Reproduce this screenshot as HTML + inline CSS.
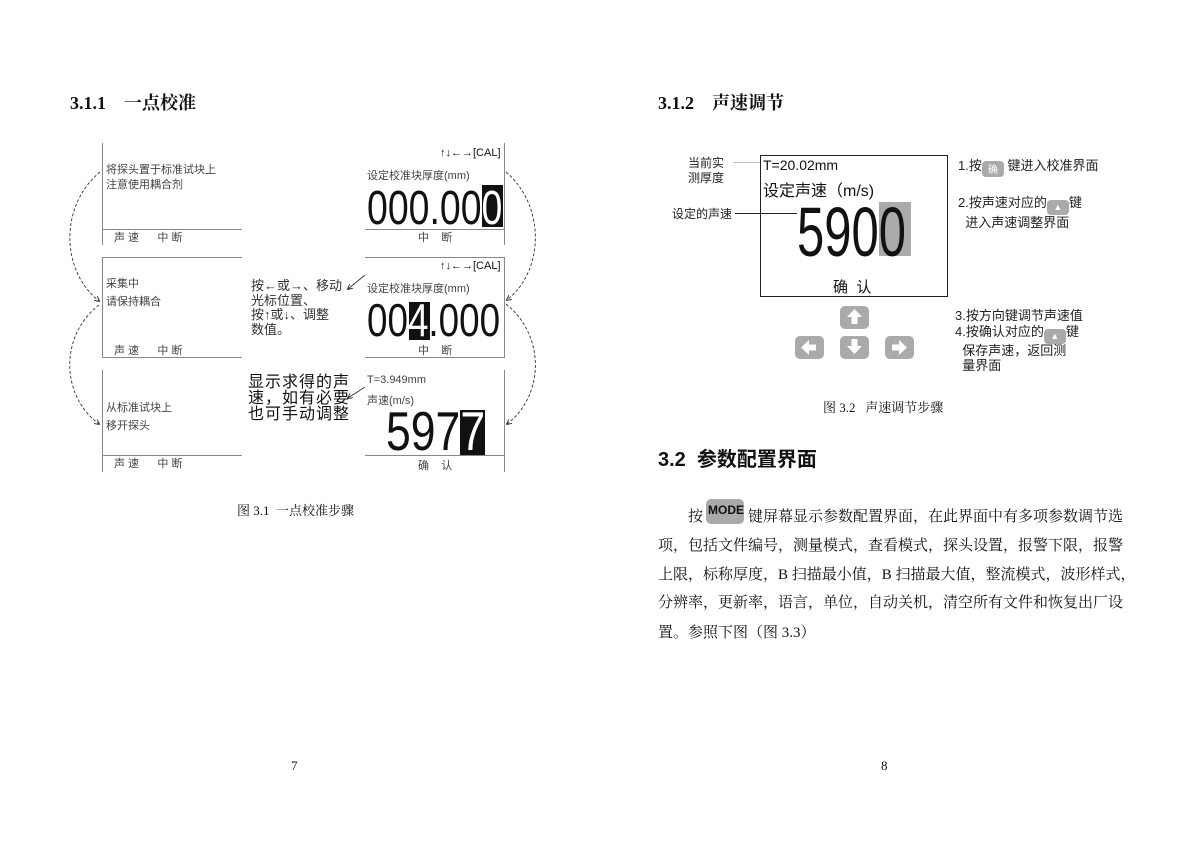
<!DOCTYPE html>
<html><head><meta charset="utf-8"><style>
body{margin:0;background:#fff;}
#p{position:relative;width:1200px;height:848px;overflow:hidden;background:#fff;font-family:"Liberation Serif","Noto Serif CJK SC",serif;color:#111;}
.a{position:absolute;white-space:nowrap;}
.s{font-family:"Liberation Sans","Noto Sans CJK SC",sans-serif;}
.ln{position:absolute;background:#888;}
.k{position:absolute;background:#aaa;border-radius:5px;}
.blk{position:absolute;background:#111;}
.big{position:absolute;white-space:nowrap;font-family:"Liberation Sans",sans-serif;line-height:1;transform-origin:0 0;}
.w{color:#fff;}
.pl{position:absolute;left:658px;width:464px;font-size:15px;text-align:justify;text-align-last:justify;white-space:nowrap;}
</style></head><body><div id="p">

<div class="a" style="left:70px;top:89px;font-size:18px;font-weight:bold;">3.1.1&nbsp;&nbsp;&nbsp; 一点校准</div>
<div class="a" style="left:658px;top:89px;font-size:18px;font-weight:bold;">3.1.2&nbsp;&nbsp;&nbsp; 声速调节</div>

<!-- left panels -->
<div class="ln" style="left:102px;top:143px;width:1px;height:102px"></div>
<div class="ln" style="left:102px;top:229px;width:140px;height:1px"></div>
<div class="a s" style="left:106px;top:163px;font-size:11px;color:#444;line-height:15px">将探头置于标准试块上<br>注意使用耦合剂</div>
<div class="a s" style="left:114px;top:229px;font-size:11px;color:#444;">声 速&nbsp;&nbsp;&nbsp;&nbsp;&nbsp; 中 断</div>

<div class="ln" style="left:102px;top:257px;width:140px;height:1px"></div>
<div class="ln" style="left:102px;top:257px;width:1px;height:101px"></div>
<div class="ln" style="left:102px;top:357px;width:140px;height:1px"></div>
<div class="a s" style="left:106px;top:275px;font-size:11px;color:#444;line-height:18px">采集中<br>请保持耦合</div>
<div class="a s" style="left:114px;top:342px;font-size:11px;color:#444;">声 速&nbsp;&nbsp;&nbsp;&nbsp;&nbsp; 中 断</div>

<div class="ln" style="left:102px;top:370px;width:1px;height:102px"></div>
<div class="ln" style="left:102px;top:455px;width:140px;height:1px"></div>
<div class="a s" style="left:106px;top:399px;font-size:11px;color:#444;line-height:18px">从标准试块上<br>移开探头</div>
<div class="a s" style="left:114px;top:455px;font-size:11px;color:#444;">声 速&nbsp;&nbsp;&nbsp;&nbsp;&nbsp; 中 断</div>

<!-- right panels -->
<div class="ln" style="left:504px;top:143px;width:1px;height:102px"></div>
<div class="ln" style="left:365px;top:229px;width:140px;height:1px"></div>
<div class="a s" style="left:440px;top:147px;font-size:11px;">↑↓←→[CAL]</div>
<div class="a s" style="left:367px;top:167px;font-size:11px;color:#444;">设定校准块厚度(mm)</div>
<div class="blk" style="left:482px;top:185px;width:21px;height:42px"></div>
<div class="big" style="left:367px;top:185px;font-size:48px;transform:scaleX(0.78)">000.00<span class="w">0</span></div>
<div class="a s" style="left:418px;top:229px;font-size:11px;color:#444;">中&nbsp;&nbsp;&nbsp; 断</div>

<div class="ln" style="left:365px;top:257px;width:140px;height:1px"></div>
<div class="ln" style="left:504px;top:257px;width:1px;height:101px"></div>
<div class="ln" style="left:365px;top:357px;width:140px;height:1px"></div>
<div class="a s" style="left:440px;top:260px;font-size:11px;">↑↓←→[CAL]</div>
<div class="a s" style="left:367px;top:280px;font-size:11px;color:#444;">设定校准块厚度(mm)</div>
<div class="blk" style="left:409px;top:302px;width:21px;height:38px"></div>
<div class="big" style="left:367px;top:297px;font-size:46px;transform:scaleX(0.8)">00<span class="w">4</span>.000</div>
<div class="a s" style="left:418px;top:342px;font-size:11px;color:#444;">中&nbsp;&nbsp;&nbsp; 断</div>

<div class="ln" style="left:504px;top:370px;width:1px;height:102px"></div>
<div class="ln" style="left:365px;top:455px;width:140px;height:1px"></div>
<div class="a s" style="left:367px;top:374px;font-size:11px;color:#444;">T=3.949mm</div>
<div class="a s" style="left:367px;top:392px;font-size:11px;color:#444;">声速(m/s)</div>
<div class="blk" style="left:460px;top:410px;width:25px;height:45px"></div>
<div class="big" style="left:386px;top:404px;font-size:55px;transform:scaleX(0.81)">597<span class="w">7</span></div>
<div class="a s" style="left:418px;top:457px;font-size:11px;color:#444;">确&nbsp;&nbsp;&nbsp; 认</div>

<div class="a s" style="left:251px;top:279px;font-size:13px;line-height:14.5px;color:#333">按←或→、移动<br>光标位置、<br>按↑或↓、调整<br>数值。</div>
<div class="a s" style="left:248px;top:375px;font-size:16px;line-height:16px;letter-spacing:1px">显示求得的声<br>速，如有必要<br>也可手动调整</div>

<svg class="a" style="left:0;top:0" width="600" height="500">
<defs><marker id="m" markerWidth="6" markerHeight="6" refX="5" refY="3" orient="auto"><path d="M0,0 L6,3 L0,6" fill="none" stroke="#222" stroke-width="1"/></marker></defs>
<g fill="none" stroke="#333" stroke-width="0.9" stroke-dasharray="3,2">
<path d="M100,172 C60,205 60,270 99,301" marker-end="url(#m)"/>
<path d="M99,305 C60,335 60,395 99,424" marker-end="url(#m)"/>
<path d="M506,172 C545,205 545,270 507,300" marker-end="url(#m)"/>
<path d="M506,304 C545,335 545,395 507,424" marker-end="url(#m)"/>
</g>
<g stroke="#333" stroke-width="0.9">
<line x1="365" y1="275" x2="348" y2="289" marker-end="url(#m)"/>
<line x1="365" y1="387" x2="348" y2="398" marker-end="url(#m)"/>
</g>
</svg>

<div class="a" style="left:237px;top:500px;font-size:13px;">图 3.1&nbsp; 一点校准步骤</div>
<div class="a" style="left:291px;top:758px;font-size:13px;">7</div>
<div class="a" style="left:881px;top:758px;font-size:13px;">8</div>

<!-- fig 3.2 -->
<div style="position:absolute;left:760px;top:155px;width:188px;height:142px;border:1px solid #222;box-sizing:border-box"></div>
<div class="a s" style="left:763px;top:157px;font-size:14px;">T=20.02mm</div>
<div class="a s" style="left:763px;top:177px;font-size:16px;">设定声速（m/s)</div>
<div style="position:absolute;left:879px;top:202px;width:32px;height:54px;background:#aaa"></div>
<div class="big" style="left:797px;top:197px;font-size:70px;transform:scaleX(0.7)">5900</div>
<div class="a s" style="left:833px;top:276px;font-size:15px;">确&nbsp; 认</div>
<div class="a s" style="left:688px;top:156px;font-size:12px;line-height:15px;color:#222">当前实<br>测厚度</div>
<div class="ln" style="left:733px;top:162px;width:27px;height:1px;background:#bbb"></div>
<div class="a s" style="left:672px;top:205px;font-size:12px;color:#222">设定的声速</div>
<div class="ln" style="left:735px;top:213px;width:62px;height:1px;background:#222"></div>

<div class="k" style="left:840px;top:306px;width:29px;height:23px"></div>
<div class="k" style="left:795px;top:336px;width:29px;height:23px"></div>
<div class="k" style="left:840px;top:336px;width:29px;height:23px"></div>
<div class="k" style="left:885px;top:336px;width:29px;height:23px"></div>
<svg class="a" style="left:790px;top:300px" width="130" height="65" fill="#fff">
<path d="M64.5,9 L72,17 L67.5,17 L67.5,24 L61.5,24 L61.5,17 L57,17Z"/>
<path d="M64.5,54 L72,46 L67.5,46 L67.5,39 L61.5,39 L61.5,46 L57,46Z"/>
<path d="M11,47.5 L19,40 L19,44.5 L26,44.5 L26,50.5 L19,50.5 L19,55Z"/>
<path d="M117,47.5 L109,40 L109,44.5 L102,44.5 L102,50.5 L109,50.5 L109,55Z"/>
</svg>

<div class="a s" style="left:958px;top:155px;font-size:13px;color:#222">1.按<span style="display:inline-block;background:#aaa;border-radius:4px;width:22px;height:16px;vertical-align:-3px;font-size:10px;text-align:center;color:#fff">确</span> 键进入校准界面</div>
<div class="a s" style="left:958px;top:195px;font-size:13px;line-height:15px;color:#222">2.按声速对应的<span style="display:inline-block;background:#aaa;border-radius:4px;width:22px;height:15px;vertical-align:-3px;font-size:9px;text-align:center;color:#fff">▲</span>键<br>&nbsp;&nbsp;进入声速调整界面</div>
<div class="a s" style="left:955px;top:305px;font-size:13px;color:#222">3.按方向键调节声速值</div>
<div class="a s" style="left:955px;top:325px;font-size:13px;line-height:14.5px;color:#222">4.按确认对应的<span style="display:inline-block;background:#aaa;border-radius:4px;width:22px;height:15px;vertical-align:-3px;font-size:9px;text-align:center;color:#fff">▲</span>键<br>&nbsp;&nbsp;保存声速，返回测<br>&nbsp;&nbsp;量界面</div>

<div class="a" style="left:823px;top:397px;font-size:13px;">图 3.2&nbsp;&nbsp; 声速调节步骤</div>

<div class="a s" style="left:658px;top:443px;font-size:20px;font-weight:bold;">3.2&nbsp; 参数配置界面</div>

<div class="k" style="left:706px;top:499px;width:38px;height:25px;background:#aaa"></div>
<div class="a s" style="left:708px;top:503px;font-size:12px;font-weight:bold;color:#111">MODE</div>
<div class="a" style="left:688px;top:505px;font-size:15px;">按</div>
<div class="pl" style="left:748px;width:374px;top:505px;">键屏幕显示参数配置界面，在此界面中有多项参数调节选</div>
<div class="pl" style="top:534px;">项，包括文件编号，测量模式，查看模式，探头设置，报警下限，报警</div>
<div class="pl" style="top:563px;">上限，标称厚度，B 扫描最小值，B 扫描最大值，整流模式，波形样式，</div>
<div class="pl" style="top:591px;">分辨率，更新率，语言，单位，自动关机，清空所有文件和恢复出厂设</div>
<div class="a" style="left:658px;top:621px;font-size:15px;">置。参照下图（图 3.3）</div>

</div></body></html>
